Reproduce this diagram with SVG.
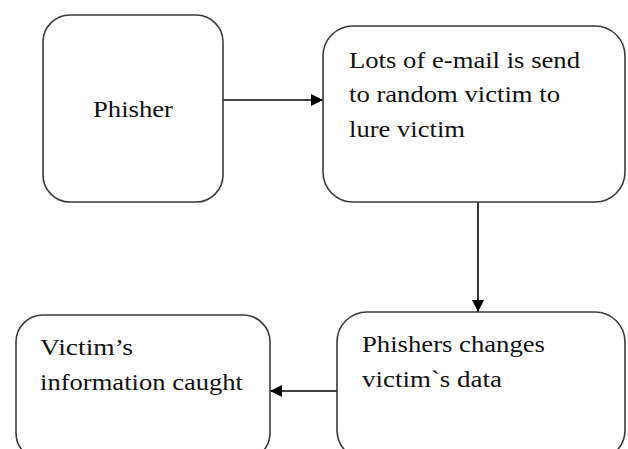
<svg xmlns="http://www.w3.org/2000/svg" width="628" height="449" viewBox="0 0 628 449">
<style>
.box{fill:#fff;stroke:#3a3a3a;stroke-width:1.6}
.t{font-family:'Times New Roman','Liberation Serif',Times,serif;font-size:23px;fill:#111}
.c{stroke:#000;stroke-width:1.6;fill:none}
</style>
<defs>
<marker id="ah" viewBox="0 0 10 10" refX="10" refY="5" markerWidth="13" markerHeight="12" markerUnits="userSpaceOnUse" orient="auto">
<path d="M0,0 L10,5 L0,10 Z" fill="#000"/>
</marker>
</defs>
<rect width="628" height="449" fill="#fff"/>
<g id="connectors">
<line class="c" x1="223" y1="100" x2="323" y2="100" marker-end="url(#ah)"/>
<line class="c" x1="478" y1="202" x2="478" y2="312" marker-end="url(#ah)"/>
<line class="c" x1="337" y1="391" x2="270" y2="391" marker-end="url(#ah)"/>
</g>
<g id="phisher">
<rect class="box" x="43" y="15" width="180" height="187" rx="27"/>
<text class="t" x="93" y="117" textLength="80" lengthAdjust="spacingAndGlyphs">Phisher</text>
</g>
<g id="email">
<rect class="box" x="323" y="26" width="302" height="176" rx="30"/>
<text class="t" x="349" y="68" textLength="231" lengthAdjust="spacingAndGlyphs">Lots of e-mail is send</text>
<text class="t" x="349" y="102" textLength="211" lengthAdjust="spacingAndGlyphs">to random victim to</text>
<text class="t" x="349" y="137" textLength="116" lengthAdjust="spacingAndGlyphs">lure victim</text>
</g>
<g id="changes">
<rect class="box" x="337" y="312" width="288" height="148" rx="30"/>
<text class="t" x="362" y="352" textLength="183" lengthAdjust="spacingAndGlyphs">Phishers changes</text>
<text class="t" x="362" y="387" textLength="140" lengthAdjust="spacingAndGlyphs">victim`s data</text>
</g>
<g id="caught">
<rect class="box" x="16" y="315" width="254" height="145" rx="27"/>
<text class="t" x="40" y="355" textLength="93" lengthAdjust="spacingAndGlyphs">Victim’s</text>
<text class="t" x="40" y="390" textLength="203" lengthAdjust="spacingAndGlyphs">information caught</text>
</g>
</svg>
